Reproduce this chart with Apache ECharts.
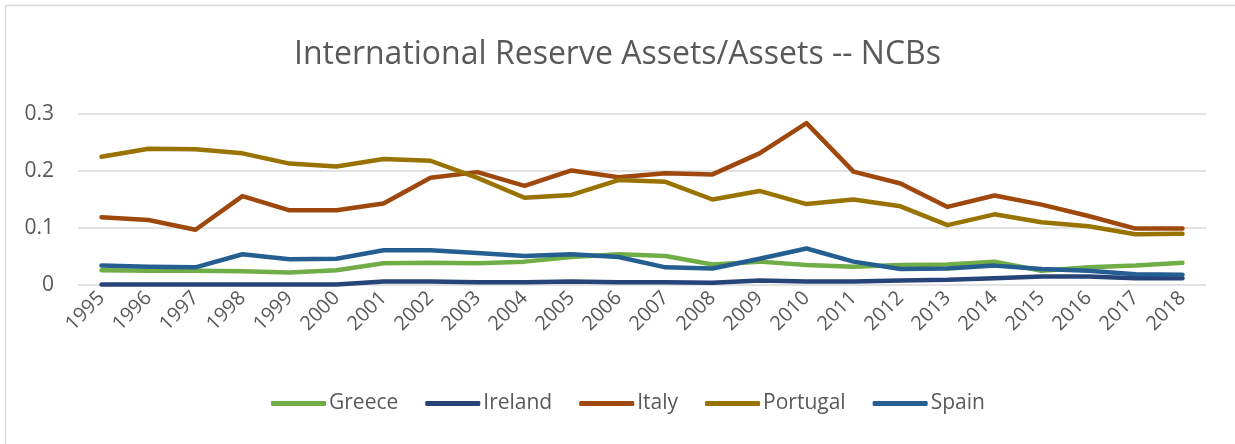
<!DOCTYPE html>
<html>
<head>
<meta charset="utf-8">
<script src="https://cdn.jsdelivr.net/npm/echarts@6/dist/echarts.min.js"></script>
<style>
  html, body { margin: 0; padding: 0; background: #fff; }
  #chart { width: 1235px; height: 444px; }
</style>
</head>
<body>
<div id="chart"></div>
<script>
const years = ["1995", "1996", "1997", "1998", "1999", "2000", "2001", "2002", "2003", "2004", "2005", "2006",
	"2007", "2008", "2009", "2010", "2011", "2012", "2013", "2014", "2015", "2016", "2017", "2018"];

const greece = [0.026, 0.025, 0.025, 0.024, 0.022, 0.026, 0.038, 0.039, 0.038, 0.041, 0.049, 0.054,
	0.051, 0.036, 0.041, 0.035, 0.032, 0.035, 0.036, 0.041, 0.025, 0.031, 0.034, 0.039];
const ireland = [0.001, 0.001, 0.001, 0.001, 0.001, 0.001, 0.006, 0.006, 0.005, 0.005, 0.006, 0.005,
	0.005, 0.004, 0.008, 0.006, 0.006, 0.008, 0.009, 0.012, 0.015, 0.015, 0.012, 0.012];
const italy = [0.119, 0.114, 0.097, 0.156, 0.131, 0.131, 0.143, 0.188, 0.198, 0.174, 0.201, 0.189,
	0.196, 0.194, 0.231, 0.284, 0.199, 0.178, 0.137, 0.157, 0.141, 0.121, 0.099, 0.099];
const portugal = [0.225, 0.239, 0.238, 0.231, 0.213, 0.208, 0.221, 0.218, 0.188, 0.153, 0.158, 0.184,
	0.181, 0.150, 0.165, 0.142, 0.150, 0.138, 0.105, 0.124, 0.110, 0.103, 0.089, 0.090];
const spain = [0.034, 0.032, 0.031, 0.054, 0.045, 0.046, 0.061, 0.061, 0.056, 0.051, 0.054, 0.049,
	0.031, 0.029, 0.046, 0.064, 0.041, 0.028, 0.029, 0.034, 0.028, 0.025, 0.019, 0.018];

const yTicks = [0, 0.1, 0.2, 0.3];

const names = ["Greece", "Ireland", "Italy", "Portugal", "Spain"];
const colors = ["#70AD47", "#264478", "#9E480E", "#997300", "#255E91"];
const values = [greece, ireland, italy, portugal, spain];

const font = "'Open Sans', sans-serif";
const textColor = "#595959";

const option = {
	animation: false,
	color: colors,
	title: {
		text: "International Reserve Assets/Assets -- NCBs",
		left: "center",
		top: 34,
		textStyle: {
			color: textColor,
			fontFamily: font,
			fontSize: 32,
			fontWeight: "normal",
		},
	},
	grid: {
		left: 78,
		right: 29,
		top: 114,
		bottom: 159,
	},
	legend: {
		top: 388,
		left: 266,
		itemWidth: 55,
		itemHeight: 5,
		itemGap: 27,
		icon: "roundRect",
		textStyle: {
			color: textColor,
			fontFamily: font,
			fontSize: 21,
			padding: [0, 0, 0, -2],
		},
		data: names,
	},
	xAxis: {
		type: "category",
		data: years,
		axisLine: { show: false },
		axisTick: { show: false },
		axisLabel: {
			interval: 0,
			rotate: 45,
			margin: 10,
			color: textColor,
			fontFamily: font,
			fontSize: 20,
		},
	},
	yAxis: {
		type: "value",
		min: yTicks[0],
		max: yTicks[yTicks.length - 1],
		interval: 0.1,
		axisLine: { show: false },
		axisTick: { show: false },
		axisLabel: {
			margin: 24,
			color: textColor,
			fontFamily: font,
			fontSize: 21,
		},
		splitLine: {
			lineStyle: { color: "#d9d9d9", width: 1.5 },
		},
	},
	graphic: [
		{
			type: "rect",
			shape: { x: 5.5, y: 5.5, width: 1260, height: 460 },
			style: { fill: null, stroke: "#d9d9d9", lineWidth: 1.5 },
			silent: true,
		},
	],
	series: names.map((name, i) => ({
		name: name,
		type: "line",
		data: values[i],
		symbol: "none",
		lineStyle: { width: 4.5, color: colors[i], cap: "round", join: "round" },
		itemStyle: { color: colors[i] },
	})),
};

const chart = echarts.init(document.getElementById("chart"));
chart.setOption(option);
</script>
</body>
</html>
